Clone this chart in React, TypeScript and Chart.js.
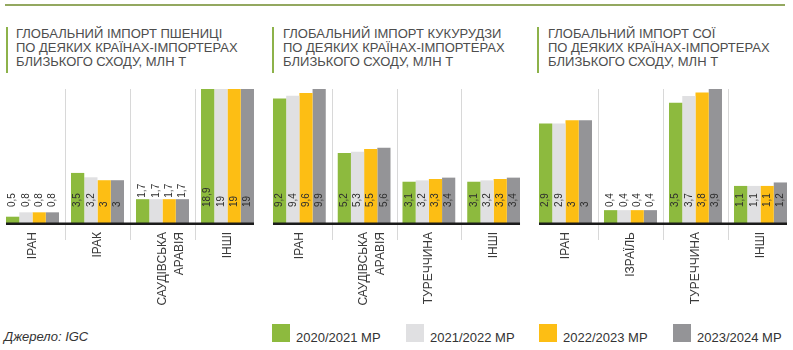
import React, { useEffect, useRef } from 'react';
import { Chart, registerables } from 'chart.js';

Chart.register(...registerables);

const FONT = '"Liberation Sans", Arial, sans-serif';

const seasons = ['2020/2021 МР', '2021/2022 МР', '2022/2023 МР', '2023/2024 МР'];
const seasonColors = ['#8dba3e', '#e0e0e2', '#fdbe14', '#949497'];

const wheatTitle = ['ГЛОБАЛЬНИЙ ІМПОРТ ПШЕНИЦІ', 'ПО ДЕЯКИХ КРАЇНАХ-ІМПОРТЕРАХ', 'БЛИЗЬКОГО СХОДУ, МЛН Т'];
const wheatCountries: (string | string[])[] = ['ІРАН', 'ІРАК', ['САУДІВСЬКА', 'АРАВІЯ'], 'ІНШІ'];
const wheat2020 = [0.5, 3.5, 1.7, 18.9];
const wheat2021 = [0.8, 3.2, 1.7, 19];
const wheat2022 = [0.8, 3, 1.7, 19];
const wheat2023 = [0.8, 3, 1.7, 19];

const cornTitle = ['ГЛОБАЛЬНИЙ ІМПОРТ КУКУРУДЗИ', 'ПО ДЕЯКИХ КРАЇНАХ-ІМПОРТЕРАХ', 'БЛИЗЬКОГО СХОДУ, МЛН Т'];
const cornCountries: (string | string[])[] = ['ІРАН', ['САУДІВСЬКА', 'АРАВІЯ'], 'ТУРЕЧЧИНА', 'ІНШІ'];
const corn2020 = [9.2, 5.2, 3.1, 3.1];
const corn2021 = [9.4, 5.3, 3.2, 3.2];
const corn2022 = [9.6, 5.5, 3.3, 3.3];
const corn2023 = [9.9, 5.6, 3.4, 3.4];

const soyTitle = ['ГЛОБАЛЬНИЙ ІМПОРТ СОЇ', 'ПО ДЕЯКИХ КРАЇНАХ-ІМПОРТЕРАХ', 'БЛИЗЬКОГО СХОДУ, МЛН Т'];
const soyCountries: (string | string[])[] = ['ІРАН', 'ІЗРАЇЛЬ', 'ТУРЕЧЧИНА', 'ІНШІ'];
const soy2020 = [2.9, 0.4, 3.5, 1.1];
const soy2021 = [2.9, 0.4, 3.7, 1.1];
const soy2022 = [3, 0.4, 3.8, 1.1];
const soy2023 = [3, 0.4, 3.9, 1.2];

const sourceText = 'Джерело: IGC';

const decor = {
  id: 'decor',
  beforeDatasetsDraw(chart: any) {
    const { ctx, chartArea } = chart;
    const x = chart.scales.x;
    ctx.save();
    ctx.strokeStyle = '#d8d8d8';
    ctx.lineWidth = 1;
    for (let i = 0; i < chart.data.labels.length - 1; i++) {
      const px = Math.round((x.getPixelForValue(i) + x.getPixelForValue(i + 1)) / 2) + 0.5;
      ctx.beginPath();
      ctx.moveTo(px, chartArea.top);
      ctx.lineTo(px, chartArea.bottom + 16);
      ctx.stroke();
    }
    ctx.restore();
  },
  afterDatasetsDraw(chart: any) {
    const { ctx, chartArea } = chart;
    const n = chart.data.datasets.length;
    const first = chart.getDatasetMeta(0).data[0];
    const lastMeta = chart.getDatasetMeta(n - 1);
    const last = lastMeta.data[lastMeta.data.length - 1];
    const x0 = first.x - first.width / 2;
    const x1 = last.x + last.width / 2;
    ctx.save();
    ctx.fillStyle = '#1b1b1b';
    ctx.fillRect(x0, chartArea.bottom - 1.5, x1 - x0, 2.5);
    ctx.font = `10px ${FONT}`;
    ctx.fillStyle = '#2e2e2e';
    ctx.textAlign = 'left';
    ctx.textBaseline = 'middle';
    const anchor = chartArea.bottom - 17;
    chart.data.datasets.forEach((ds: any, di: number) => {
      const meta = chart.getDatasetMeta(di);
      meta.data.forEach((bar: any, j: number) => {
        const txt = String(ds.data[j]).replace('.', ',');
        const len = ctx.measureText(txt).width;
        const top = Math.max(bar.y, chartArea.top);
        const fitsInside = top < anchor - len - 1;
        const ys = fitsInside ? anchor : Math.min(anchor, top - 1.5);
        ctx.save();
        ctx.translate(bar.x, ys);
        ctx.rotate(-Math.PI / 2);
        ctx.fillText(txt, 0, 0);
        ctx.restore();
      });
    });
    ctx.restore();
  },
};

function Panel(props: {
  left: number;
  width: number;
  categories: (string | string[])[];
  series: number[][];
  yMax: number;
}) {
  const ref = useRef<HTMLCanvasElement>(null);
  useEffect(() => {
    const chart = new Chart(ref.current as HTMLCanvasElement, {
      type: 'bar',
      data: {
        labels: props.categories as any,
        datasets: props.series.map((d, i) => ({
          label: seasons[i],
          data: d,
          backgroundColor: seasonColors[i],
          borderWidth: 0,
          categoryPercentage: 0.815,
          barPercentage: 1,
        })),
      },
      options: {
        responsive: false,
        animation: false,
        layout: { padding: { top: 9, left: 0, right: 0, bottom: 0 } },
        plugins: { legend: { display: false }, tooltip: { enabled: false } },
        scales: {
          x: {
            grid: { display: false, drawTicks: false },
            border: { display: false },
            ticks: {
              autoSkip: false,
              minRotation: 90,
              maxRotation: 90,
              padding: 8,
              color: '#3a3a3a',
              font: { family: FONT, size: 12, lineHeight: 1.4 },
            },
            afterFit: (s: any) => {
              s.height = 96;
            },
          },
          y: { display: false, min: 0, max: props.yMax },
        },
      } as any,
      plugins: [decor],
    });
    return () => chart.destroy();
  }, []);
  return (
    <canvas
      ref={ref}
      width={props.width}
      height={240}
      style={{ position: 'absolute', left: props.left, top: 80, width: props.width, height: 240 }}
    />
  );
}

function Title(props: { barX: number; textX: number; lines: string[] }) {
  return (
    <>
      <div style={{ position: 'absolute', left: props.barX, top: 27, width: 2, height: 46, background: '#8db24a' }} />
      <div
        style={{
          position: 'absolute',
          left: props.textX,
          top: 27,
          fontFamily: FONT,
          fontSize: 13,
          lineHeight: '14px',
          color: '#4d4d4d',
          whiteSpace: 'nowrap',
        }}
      >
        {props.lines.map((l, i) => (
          <div key={i}>{l}</div>
        ))}
      </div>
    </>
  );
}

export default function App() {
  return (
    <div style={{ position: 'fixed', left: 0, top: 0, width: 793, height: 350, background: '#fff', overflow: 'hidden' }}>
      <div style={{ position: 'absolute', left: 5, top: 4, width: 780, height: 2, background: '#93a860' }} />
      <Title barX={6} textX={16} lines={wheatTitle} />
      <Title barX={272} textX={283} lines={cornTitle} />
      <Title barX={537} textX={548} lines={soyTitle} />
      <Panel left={0} width={260} categories={wheatCountries} series={[wheat2020, wheat2021, wheat2022, wheat2023]} yMax={9.25} />
      <Panel left={267} width={259} categories={cornCountries} series={[corn2020, corn2021, corn2022, corn2023]} yMax={9.9} />
      <Panel left={533} width={260} categories={soyCountries} series={[soy2020, soy2021, soy2022, soy2023]} yMax={3.9} />
      <div
        style={{
          position: 'absolute',
          left: 4,
          top: 330,
          fontFamily: FONT,
          fontStyle: 'italic',
          fontSize: 13,
          lineHeight: '14px',
          color: '#333',
          whiteSpace: 'nowrap',
        }}
      >
        {sourceText}
      </div>
      {seasons.map((s, i) => (
        <React.Fragment key={s}>
          <div
            style={{
              position: 'absolute',
              left: Math.round(272 + i * 133.7),
              top: 324,
              width: 18,
              height: 18,
              background: seasonColors[i],
            }}
          />
          <div
            style={{
              position: 'absolute',
              left: Math.round(272 + i * 133.7) + 24,
              top: 331,
              fontFamily: FONT,
              fontSize: 13,
              lineHeight: '14px',
              color: '#333',
              whiteSpace: 'nowrap',
            }}
          >
            {s}
          </div>
        </React.Fragment>
      ))}
    </div>
  );
}
